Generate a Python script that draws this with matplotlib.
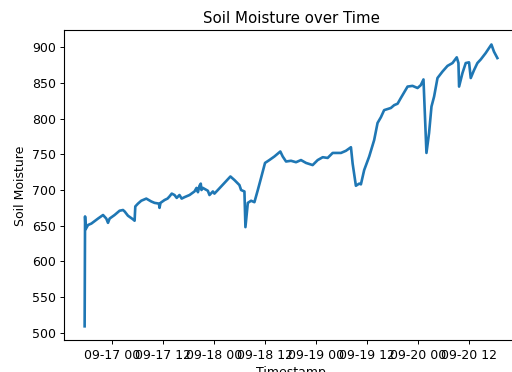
import pandas as pd
import matplotlib
matplotlib.use("Agg")
import matplotlib.pyplot as plt
import matplotlib.dates as mdates

# readings picked off the reference chart
timestamps = [
    "2023-09-16 17:29", "2023-09-16 17:35", "2023-09-16 17:43", "2023-09-16 18:17",
    "2023-09-16 19:04", "2023-09-16 20:38", "2023-09-16 21:49", "2023-09-16 22:35",
    "2023-09-16 22:59", "2023-09-16 23:22", "2023-09-17 00:32", "2023-09-17 01:43",
    "2023-09-17 02:31", "2023-09-17 02:54", "2023-09-17 03:41", "2023-09-17 04:52",
    "2023-09-17 05:15", "2023-09-17 05:25", "2023-09-17 06:03", "2023-09-17 06:49",
    "2023-09-17 08:00", "2023-09-17 09:10", "2023-09-17 09:57", "2023-09-17 10:59",
    "2023-09-17 11:07", "2023-09-17 11:21", "2023-09-17 12:18", "2023-09-17 13:00",
    "2023-09-17 13:28", "2023-09-17 14:00", "2023-09-17 14:39", "2023-09-17 15:10",
    "2023-09-17 15:49", "2023-09-17 16:20", "2023-09-17 17:00", "2023-09-17 18:11",
    "2023-09-17 19:21", "2023-09-17 19:50", "2023-09-17 20:10", "2023-09-17 20:32",
    "2023-09-17 20:50", "2023-09-17 21:00", "2023-09-17 21:19", "2023-09-17 22:30",
    "2023-09-17 22:53", "2023-09-17 23:41", "2023-09-18 00:03", "2023-09-18 00:51",
    "2023-09-18 02:25", "2023-09-18 03:49", "2023-09-18 04:46", "2023-09-18 05:56",
    "2023-09-18 06:20", "2023-09-18 07:07", "2023-09-18 07:21", "2023-09-18 07:55",
    "2023-09-18 08:41", "2023-09-18 09:28", "2023-09-18 10:16", "2023-09-18 11:02",
    "2023-09-18 11:58", "2023-09-18 12:59", "2023-09-18 14:10", "2023-09-18 15:34",
    "2023-09-18 16:08", "2023-09-18 16:55", "2023-09-18 18:05", "2023-09-18 19:16",
    "2023-09-18 20:26", "2023-09-18 21:37", "2023-09-18 23:11", "2023-09-19 00:22",
    "2023-09-19 01:33", "2023-09-19 02:43", "2023-09-19 03:54", "2023-09-19 05:51",
    "2023-09-19 07:01", "2023-09-19 08:12", "2023-09-19 08:36", "2023-09-19 09:22",
    "2023-09-19 10:09", "2023-09-19 10:33", "2023-09-19 11:19", "2023-09-19 12:30",
    "2023-09-19 13:40", "2023-09-19 14:28", "2023-09-19 15:15", "2023-09-19 16:01",
    "2023-09-19 17:36", "2023-09-19 18:23", "2023-09-19 19:11", "2023-09-19 19:57",
    "2023-09-19 21:32", "2023-09-19 22:42", "2023-09-19 23:53", "2023-09-20 00:39",
    "2023-09-20 01:17", "2023-09-20 01:36", "2023-09-20 01:59", "2023-09-20 02:36",
    "2023-09-20 03:10", "2023-09-20 03:47", "2023-09-20 04:35", "2023-09-20 05:45",
    "2023-09-20 06:56", "2023-09-20 08:07", "2023-09-20 09:07", "2023-09-20 09:31",
    "2023-09-20 09:40", "2023-09-20 10:28", "2023-09-20 11:14", "2023-09-20 12:01",
    "2023-09-20 12:25", "2023-09-20 13:11", "2023-09-20 13:59", "2023-09-20 14:46",
    "2023-09-20 15:56", "2023-09-20 16:43", "2023-09-20 17:17", "2023-09-20 17:53",
    "2023-09-20 18:41",
]
moisture = [
    509, 663, 645, 651, 653, 660, 665, 660, 654, 660, 665, 671,
    672, 670, 664, 659, 657, 677, 681, 685, 688, 684, 682, 681,
    675, 682, 686, 688, 691, 695, 693, 689, 693, 688, 690, 693,
    698, 703, 697, 706, 709, 700, 703, 699, 693, 698, 695, 700,
    710, 719, 714, 707, 700, 698, 648, 682, 685, 683, 700, 717,
    738, 742, 747, 754, 747, 740, 741, 739, 742, 738, 735, 742,
    746, 745, 752, 752, 755, 760, 737, 706, 709, 708, 728, 747,
    770, 794, 802, 812, 815, 819, 821, 829, 845, 846, 843, 847,
    855, 808, 752, 780, 817, 831, 857, 866, 874, 878, 886, 878,
    845, 864, 878, 879, 857, 868, 878, 883, 892, 899, 904, 894,
    885,
]

df = pd.DataFrame({"Timestamp": pd.to_datetime(timestamps), "Soil Moisture": moisture})

s = 0.9  # reference looks like a shrunk default figure
plt.rcParams["font.size"] = 10 * s
fig = plt.figure(figsize=(5.12, 3.72), dpi=100)
ax = fig.add_axes([64 / 512, 31.6 / 372, 454 / 512, 310 / 372])
ax.plot(df["Timestamp"], df["Soil Moisture"], color="#1f77b4", lw=1.9)
ax.set_title("Soil Moisture over Time", fontsize=12 * s, pad=5)
ax.set_xlabel("Timestamp", labelpad=3)
ax.set_ylabel("Soil Moisture", labelpad=3)
ax.xaxis.set_major_locator(mdates.HourLocator(byhour=[0, 12]))
ax.xaxis.set_major_formatter(mdates.DateFormatter("%m-%d %H"))
ax.tick_params(length=3, width=0.7, pad=3)
for sp in ax.spines.values():
    sp.set_linewidth(0.8)

fig.savefig("out.png", dpi=100)
